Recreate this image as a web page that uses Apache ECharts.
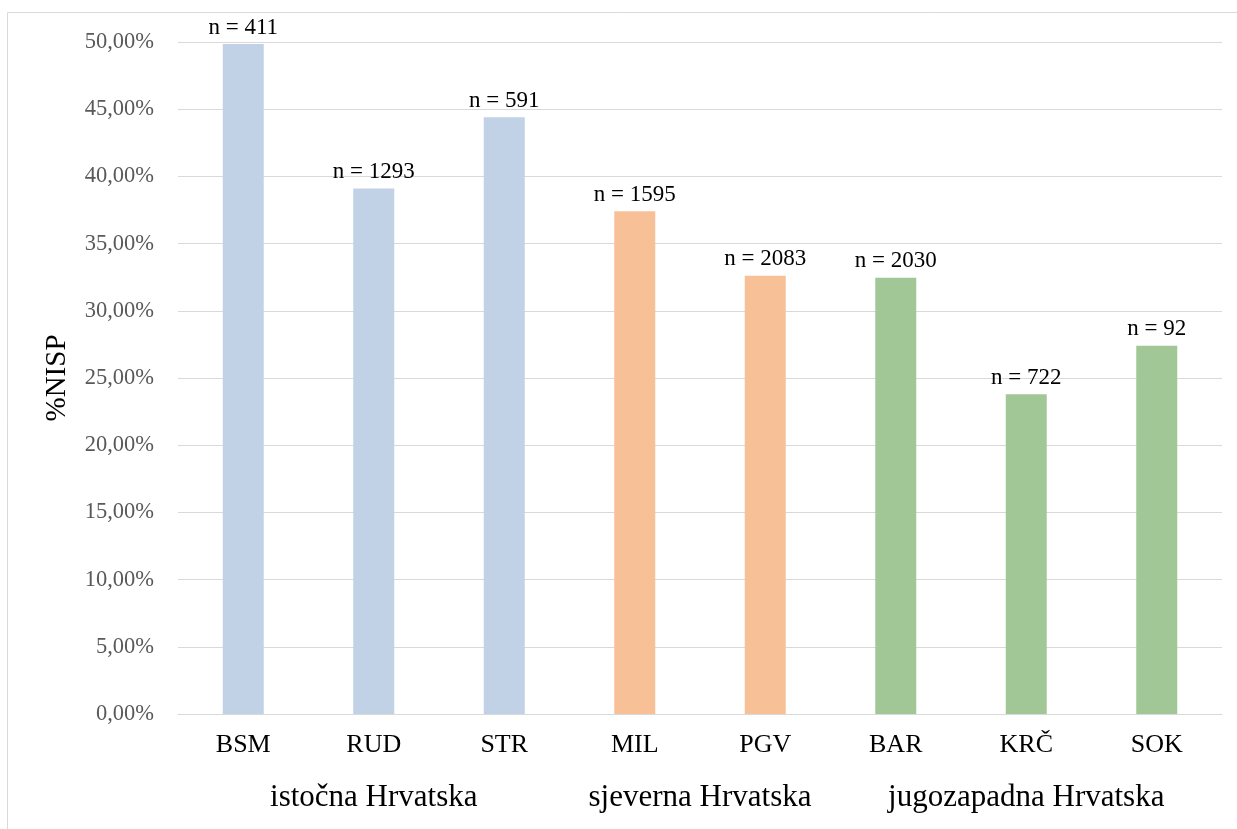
<!DOCTYPE html>
<html><head><meta charset="utf-8">
<script src="https://cdn.jsdelivr.net/npm/echarts@6/dist/echarts.min.js"></script>
<style>html,body{margin:0;padding:0;background:#fff}#c{width:1237px;height:829px}</style>
</head><body><div id="c"></div>
<script>
const categories = ['BSM','RUD','STR','MIL','PGV','BAR','KRČ','SOK'];
const values = [49.85, 39.1, 44.4, 37.4, 32.6, 32.45, 23.8, 27.4];
const nLabels = ['n = 411','n = 1293','n = 591','n = 1595','n = 2083','n = 2030','n = 722','n = 92'];
const groupOf = [0,0,0,1,1,2,2,2];
const groupNames = ['istočna Hrvatska','sjeverna Hrvatska','jugozapadna Hrvatska'];
const groupCenters = [1.5, 4, 6.5];
const groupColors = ['#c1d2e7','#f8c096','#a2c797'];

const font = '"Liberation Serif","Times New Roman",serif';
const chart = echarts.init(document.getElementById('c'));
chart.setOption({
  animation:false,
  graphic:[{type:'rect',shape:{x:7.5,y:12.5,width:1260,height:840},style:{fill:'none',stroke:'#d9d9d9',lineWidth:1},silent:true,z:-1}],
  grid:{left:178,right:15,top:42,bottom:115},
  xAxis:[{
    type:'category',data:categories,
    axisLine:{lineStyle:{color:'#d9d9d9',width:1}},
    axisTick:{show:false},
    axisLabel:{color:'#000',fontFamily:font,fontSize:26,margin:18}
  },{
    type:'value',min:0,max:8,interval:0.5,position:'bottom',
    axisLine:{show:false},axisTick:{show:false},splitLine:{show:false},
    axisLabel:{color:'#000',fontFamily:font,fontSize:31,margin:68,showMinLabel:true,showMaxLabel:true,
      formatter:v=>{const i=groupCenters.indexOf(v);return i>=0?groupNames[i]:'';}}
  }],
  yAxis:{
    type:'value',min:0,max:50,interval:5,
    name:'%NISP',nameLocation:'middle',nameGap:106,nameRotate:90,
    nameTextStyle:{color:'#000',fontFamily:font,fontSize:29},
    axisLine:{show:false},axisTick:{show:false},
    splitLine:{lineStyle:{color:'#d9d9d9',width:1}},
    axisLabel:{color:'#595959',fontFamily:font,fontSize:22.5,margin:24,
      formatter:v=>v.toFixed(2).replace('.',',')+'%'}
  },
  series:[{
    type:'bar',xAxisIndex:0,barWidth:41,
    data:values.map((v,i)=>({value:v,itemStyle:{color:groupColors[groupOf[i]]}})),
    label:{show:true,position:'top',distance:5,color:'#000',fontFamily:font,fontSize:23,
      formatter:p=>nLabels[p.dataIndex]}
  }]
});
</script></body></html>
